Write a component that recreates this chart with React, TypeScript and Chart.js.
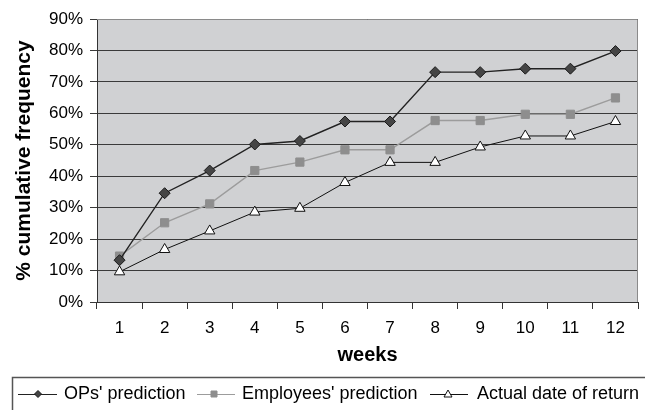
import React, { useEffect, useRef } from "react";
import { Chart, registerables } from "chart.js";

Chart.register(...registerables);

const weeks = ["1", "2", "3", "4", "5", "6", "7", "8", "9", "10", "11", "12"];
const opsPrediction = [13.3, 34.6, 41.8, 50.1, 51.2, 57.4, 57.4, 73.1, 73.1, 74.2, 74.2, 79.8];
const employeesPrediction = [14.6, 25.2, 31.2, 41.8, 44.5, 48.4, 48.4, 57.7, 57.7, 59.7, 59.7, 64.9];
const actualReturn = [9.6, 16.7, 22.6, 28.6, 29.8, 38.0, 44.4, 44.4, 49.3, 52.8, 52.8, 57.4];
const seriesNames = ["OPs' prediction", "Employees' prediction", "Actual date of return"];

const FONT = "'Liberation Sans', Arial, sans-serif";

const plotBg = {
  id: "plotBg",
  beforeDraw(chart: any) {
    const { ctx, chartArea } = chart;
    ctx.save();
    ctx.fillStyle = "#d0d1d3";
    ctx.fillRect(chartArea.left, chartArea.top, chartArea.right - chartArea.left, chartArea.bottom - chartArea.top);
    ctx.restore();
  },
  afterDatasetsDraw(chart: any) {
    const { ctx, chartArea } = chart;
    ctx.save();
    ctx.strokeStyle = "#8a8a8a";
    ctx.lineWidth = 1;
    ctx.beginPath();
    ctx.moveTo(chartArea.left, chartArea.top + 0.5);
    ctx.lineTo(chartArea.right - 0.5, chartArea.top + 0.5);
    ctx.lineTo(chartArea.right - 0.5, chartArea.bottom);
    ctx.stroke();
    ctx.restore();
  },
};

const customLegend = {
  id: "customLegend",
  afterDraw(chart: any) {
    const { ctx } = chart;
    const top = 377;
    ctx.save();
    ctx.strokeStyle = "#555";
    ctx.lineWidth = 1.5;
    ctx.strokeRect(12.5, top + 0.5, 660, 60);
    ctx.font = `18px ${FONT}`;
    ctx.fillStyle = "#000";
    ctx.textBaseline = "middle";
    const cy = 394;
    const items = [
      { x0: 18, x1: 57, mx: 38, text: 64 },
      { x0: 197, x1: 235, mx: 214, text: 242 },
      { x0: 430, x1: 468, mx: 448, text: 477 },
    ];
    chart.data.datasets.forEach((ds: any, i: number) => {
      const it = items[i];
      ctx.strokeStyle = ds.borderColor;
      ctx.lineWidth = 1;
      ctx.beginPath();
      ctx.moveTo(it.x0, cy + 0.5);
      ctx.lineTo(it.x1, cy + 0.5);
      ctx.stroke();
      ctx.fillStyle = ds.pointBackgroundColor;
      ctx.strokeStyle = ds.pointBorderColor;
      ctx.lineWidth = 1;
      ctx.beginPath();
      if (ds.pointStyle === "rectRot") {
        const r = 3.5;
        ctx.moveTo(it.mx, cy - r);
        ctx.lineTo(it.mx + r, cy);
        ctx.lineTo(it.mx, cy + r);
        ctx.lineTo(it.mx - r, cy);
      } else if (ds.pointStyle === "rect") {
        ctx.rect(it.mx - 3, cy - 3, 6, 6);
      } else {
        ctx.moveTo(it.mx, cy - 4);
        ctx.lineTo(it.mx + 4, cy + 3);
        ctx.lineTo(it.mx - 4, cy + 3);
      }
      ctx.closePath();
      ctx.fill();
      ctx.stroke();
      ctx.fillStyle = "#000";
      ctx.fillText(ds.label, it.text, cy);
    });
    ctx.restore();
  },
};

export default function App() {
  const ref = useRef<HTMLCanvasElement>(null);
  useEffect(() => {
    document.body.style.margin = "0";
    const chart = new Chart(ref.current!, {
      type: "line",
      data: {
        labels: weeks,
        datasets: [
          {
            label: seriesNames[0],
            data: opsPrediction,
            borderColor: "#222",
            borderWidth: 1.4,
            pointStyle: "rectRot",
            pointRadius: 5.5,
            pointBackgroundColor: "#454545",
            pointBorderColor: "#1a1a1a",
            pointBorderWidth: 1,
            tension: 0,
          },
          {
            label: seriesNames[1],
            data: employeesPrediction,
            borderColor: "#9c9c9c",
            borderWidth: 1.4,
            pointStyle: "rect",
            pointRadius: 5.8,
            pointBackgroundColor: "#8e8e8e",
            pointBorderColor: "#8e8e8e",
            pointBorderWidth: 1,
            tension: 0,
          },
          {
            label: seriesNames[2],
            data: actualReturn,
            borderColor: "#111",
            borderWidth: 1,
            pointStyle: "triangle",
            pointRadius: 6,
            pointBackgroundColor: "#fff",
            pointBorderColor: "#111",
            pointBorderWidth: 1,
            tension: 0,
          },
        ],
      },
      options: {
        responsive: false,
        animation: false,
        layout: { padding: { left: 0, top: 19, right: 6, bottom: 40 } },
        plugins: { legend: { display: false }, tooltip: { enabled: false } },
        scales: {
          x: {
            offset: true,
            grid: {
              offset: true,
              drawOnChartArea: false,
              drawTicks: true,
              tickLength: 7,
              color: "#333",
            },
            border: { color: "#333", width: 1 },
            ticks: { color: "#000", font: { family: FONT, size: 17 }, padding: 9 },
            title: {
              display: true,
              text: "weeks",
              color: "#000",
              font: { family: FONT, size: 20, weight: "bold" },
              padding: { top: 4, bottom: 3 },
            },
            afterFit(scale: any) {
              scale.height = 68;
            },
          },
          y: {
            min: 0,
            max: 90,
            grid: { color: "#3a3a3a", tickLength: 7, lineWidth: 1 },
            border: { color: "#333", width: 1 },
            ticks: {
              stepSize: 10,
              color: "#000",
              font: { family: FONT, size: 17 },
              padding: 7,
              callback: (v: any) => `${v}%`,
            },
            title: {
              display: true,
              text: "% cumulative frequency",
              color: "#000",
              font: { family: FONT, size: 21, weight: "bold" },
              padding: { top: 12, bottom: 4 },
            },
            afterFit(scale: any) {
              scale.width = 97;
            },
          },
        },
      },
      plugins: [plotBg, customLegend],
    });
    return () => chart.destroy();
  }, []);
  return <canvas ref={ref} width={645} height={410} style={{ display: "block" }} />;
}
